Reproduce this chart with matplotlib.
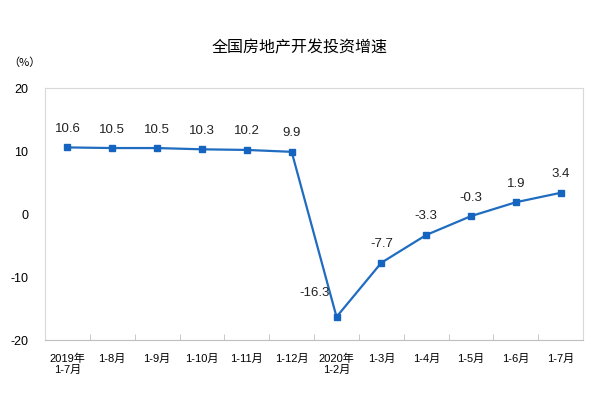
import numpy as np
import matplotlib
matplotlib.use('Agg')
import matplotlib.pyplot as plt

plt.rcParams['font.family'] = ['Liberation Sans', 'Noto Sans CJK SC', 'DejaVu Sans']

# data
months = ['2019年\n1-7月', '1-8月', '1-9月', '1-10月', '1-11月', '1-12月',
          '2020年\n1-2月', '1-3月', '1-4月', '1-5月', '1-6月', '1-7月']
growth = [10.6, 10.5, 10.5, 10.3, 10.2, 9.9, -16.3, -7.7, -3.3, -0.3, 1.9, 3.4]
y_ticks = [-20, -10, 0, 10, 20]

line_color = '#1f6cc0'

fig = plt.figure(figsize=(6, 4.2), dpi=100)
ax = fig.add_axes([0.075, 0.19, 0.897, 0.60])

x = np.arange(len(months))
ax.plot(x, growth, color=line_color, lw=1.6, marker='s', ms=5,
        markerfacecolor='#1565c0', markeredgecolor='#1565c0')

for i, v in enumerate(growth):
    if i == 6:
        # the low point label sits up and to the left of the marker
        ax.annotate(f'{v:.1f}', (i, v), xytext=(-16, 13), textcoords='offset points',
                    ha='center', va='bottom', fontsize=9.5, color='#222222')
    else:
        ax.annotate(f'{v:.1f}', (i, v), xytext=(0, 9), textcoords='offset points',
                    ha='center', va='bottom', fontsize=9.5, color='#222222')

ax.set_xlim(-0.5, len(months) - 0.5)
ax.set_ylim(-20, 20)
ax.set_yticks(y_ticks)
ax.set_yticklabels([str(t) for t in y_ticks], fontsize=9)
ax.tick_params(axis='y', length=0, pad=12)

ax.set_xticks(x)
ax.set_xticklabels(months, fontsize=8, linespacing=1.1)
ax.tick_params(axis='x', which='major', length=0, pad=10)
ax.set_xticks(np.arange(-0.5, len(months), 1.0), minor=True)
ax.tick_params(axis='x', which='minor', direction='in', length=4, color='#bfbfbf')

for side in ['top', 'left', 'right']:
    ax.spines[side].set_color('#d9d9d9')
    ax.spines[side].set_linewidth(0.8)
ax.spines['bottom'].set_color('#bfbfbf')
ax.spines['bottom'].set_linewidth(0.8)

fig.text(0.5, 0.885, '全国房地产开发投资增速', ha='center', va='center', fontsize=11.5,
         family=['Noto Sans CJK SC'])
fig.text(0.04, 0.852, '（%）', ha='center', va='center', fontsize=8,
         family=['Noto Sans CJK SC'])

fig.savefig('out.png', dpi=100, facecolor='white')
